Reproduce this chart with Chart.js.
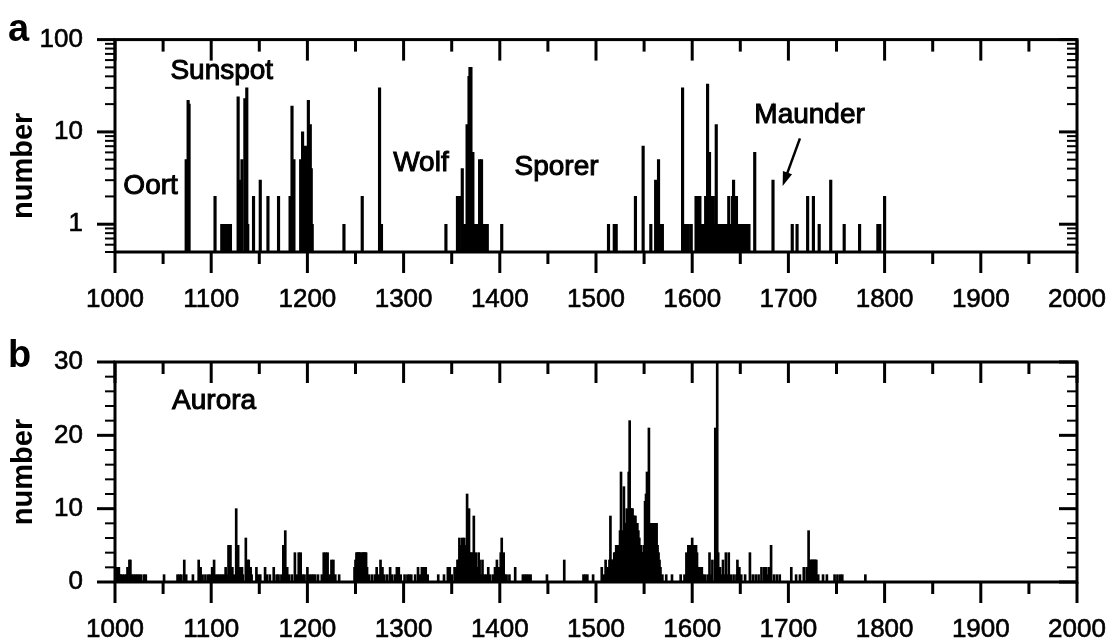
<!DOCTYPE html>
<html>
<head>
<meta charset="utf-8">
<script src="https://cdn.jsdelivr.net/npm/chart.js@4.4.0/dist/chart.umd.min.js"></script>
<style>
  html, body { margin: 0; padding: 0; background: #fff; }
  #wrap { position: relative; width: 1114px; height: 644px; }
  .panel { position: absolute; left: 0; width: 1114px; height: 322px; }
  #pa { top: 0; }
  #pb { top: 322px; }
</style>
</head>
<body>
<div id="wrap">
  <div class="panel" id="pa"><canvas id="chartA"></canvas></div>
  <div class="panel" id="pb"><canvas id="chartB"></canvas></div>
</div>
<script>
// panel a: sunspot sightings per year (log axis)
const sunspotYears = [
  1074, 1076, 1077, 1104, 1111, 1113, 1116, 1117, 1118, 1119, 1120,
  1128, 1130, 1132, 1135, 1137, 1138, 1144, 1151, 1159, 1170,
  1182, 1184, 1186, 1193, 1195, 1198, 1201, 1203, 1204, 1205,
  1238, 1257, 1275, 1277,
  1344, 1356, 1358, 1361, 1362, 1363, 1364, 1365, 1366, 1367, 1368, 1369, 1370,
  1371, 1372, 1373, 1374, 1375, 1376, 1377, 1378, 1379, 1381, 1383, 1385, 1387, 1402,
  1513, 1519, 1521, 1541, 1549, 1557, 1562, 1564, 1565, 1566, 1567, 1568, 1569,
  1590, 1592, 1594, 1596, 1599, 1604, 1606, 1608, 1610, 1612, 1614, 1615, 1616,
  1617, 1618, 1619, 1620, 1621, 1622, 1623, 1624, 1625, 1626, 1627, 1628, 1629,
  1630, 1631, 1632, 1633, 1634, 1636, 1638, 1640, 1642, 1643, 1644, 1646, 1647,
  1649, 1651, 1653, 1655, 1657, 1659, 1665, 1684, 1704, 1709, 1720, 1726, 1732,
  1744, 1758, 1774, 1793, 1795, 1800
];
const sunspotCounts = [
  5, 22, 20, 2, 1, 1, 1, 1, 1, 1, 1,
  24, 3, 5, 23, 30, 1, 2, 3, 2, 2,
  2, 19, 5, 5, 10, 7, 22, 12, 4, 1,
  1, 2, 30, 1,
  1, 2, 2, 4, 1, 1, 1, 1, 12, 6, 40, 50, 50,
  1, 6, 1, 1, 1, 1, 1, 1, 5, 5, 1, 1, 1, 1,
  1, 1, 1, 2, 7, 1, 3, 1, 5, 1, 1, 1, 1,
  30, 1, 1, 1, 1, 2, 2, 2, 1, 1, 2, 2, 33,
  2, 6, 2, 2, 2, 2, 1, 1, 12, 1, 1, 1, 1,
  1, 1, 1, 1, 1, 1, 2, 1, 2, 3, 1, 2, 1,
  1, 1, 1, 1, 1, 1, 6, 3, 1, 1, 2, 2, 1,
  3, 1, 1, 1, 1, 2
];

// panel b: aurora sightings per year
const auroraYears = [
  1001, 1002, 1003, 1004, 1005, 1006, 1008, 1010, 1012, 1013, 1015, 1016, 1017,
  1019, 1021, 1023, 1025, 1027, 1030, 1032, 1051, 1065, 1067, 1069, 1072, 1074,
  1081, 1087, 1089, 1091, 1094, 1097, 1099, 1101, 1103, 1105, 1107, 1109, 1111,
  1113, 1115, 1116, 1118, 1120, 1122, 1124, 1126, 1127, 1128, 1130, 1132, 1133,
  1136, 1138, 1139, 1141, 1142, 1147, 1149, 1151, 1156, 1158, 1161, 1165, 1168,
  1170, 1173, 1175, 1177, 1179, 1181, 1184, 1187, 1189, 1191, 1193, 1195, 1197,
  1200, 1202, 1204, 1206, 1208, 1211, 1215, 1217, 1219, 1220, 1221, 1223, 1225,
  1227, 1229, 1233, 1249, 1250, 1251, 1252, 1253, 1254, 1255, 1256, 1257, 1258,
  1259, 1260, 1261, 1262, 1264, 1267, 1270, 1272, 1274, 1276, 1278, 1280, 1283,
  1286, 1288, 1291, 1293, 1295, 1297, 1301, 1304, 1306, 1308, 1312, 1315, 1317,
  1319, 1321, 1323, 1325, 1336, 1342, 1346, 1348, 1350, 1353, 1355, 1356, 1357,
  1358, 1359, 1360, 1361, 1362, 1363, 1364, 1365, 1366, 1367, 1368, 1369, 1370,
  1371, 1372, 1373, 1374, 1375, 1376, 1377, 1378, 1379, 1380, 1382, 1384, 1386,
  1388, 1390, 1393, 1395, 1397, 1399, 1401, 1402, 1403, 1404, 1405, 1407, 1410,
  1416, 1424, 1426, 1428, 1430, 1432, 1449, 1467, 1487, 1489, 1491, 1497, 1506,
  1508, 1510, 1511, 1512, 1513, 1514, 1515, 1516, 1517, 1518, 1519, 1520, 1521,
  1522, 1523, 1524, 1525, 1526, 1527, 1528, 1529, 1530, 1531, 1532, 1533, 1534,
  1535, 1536, 1537, 1538, 1539, 1540, 1541, 1542, 1543, 1544, 1545, 1546, 1547,
  1548, 1549, 1550, 1551, 1552, 1553, 1554, 1555, 1556, 1557, 1558, 1559, 1560,
  1561, 1562, 1563, 1564, 1565, 1566, 1567, 1569, 1573, 1579, 1588, 1592, 1594,
  1595, 1596, 1597, 1598, 1599, 1600, 1601, 1602, 1603, 1604, 1605, 1606, 1607,
  1608, 1609, 1610, 1611, 1613, 1616, 1618, 1620, 1621, 1624, 1626, 1627, 1629,
  1631, 1632, 1634, 1635, 1637, 1638, 1640, 1643, 1646, 1647, 1649, 1651, 1655,
  1660, 1663, 1666, 1669, 1672, 1675, 1677, 1678, 1680, 1682, 1685, 1688, 1691,
  1703, 1708, 1712, 1716, 1719, 1721, 1723, 1724, 1725, 1726, 1727, 1728, 1729,
  1731, 1736, 1740, 1748, 1751, 1754, 1756, 1780
];
const auroraCounts = [
  2, 1, 2, 2, 1, 1, 1, 1, 1, 2, 3, 3, 1,
  1, 1, 1, 1, 1, 1, 1, 1, 1, 1, 1, 3, 1,
  1, 3, 2, 1, 1, 1, 1, 2, 3, 1, 1, 1, 1,
  1, 2, 1, 5, 5, 2, 1, 10, 3, 5, 2, 2, 1,
  6, 3, 3, 2, 1, 2, 1, 1, 2, 1, 1, 2, 1,
  1, 1, 5, 7, 2, 1, 1, 4, 1, 4, 4, 1, 1,
  2, 1, 1, 1, 1, 1, 1, 4, 4, 2, 4, 1, 3,
  3, 1, 1, 2, 3, 4, 4, 4, 4, 4, 3, 4, 4,
  4, 4, 4, 2, 1, 1, 1, 2, 1, 3, 2, 1, 1,
  2, 1, 1, 2, 2, 1, 1, 1, 1, 1, 1, 2, 1,
  2, 2, 2, 1, 1, 1, 2, 2, 1, 2, 2, 3, 3,
  6, 4, 5, 6, 5, 6, 4, 5, 12, 4, 10, 4, 4,
  3, 4, 9, 2, 4, 2, 2, 4, 3, 1, 3, 1, 1,
  2, 1, 1, 2, 3, 2, 4, 6, 2, 4, 1, 1, 1,
  2, 1, 1, 1, 1, 1, 1, 3, 1, 1, 1, 1, 2,
  1, 3, 1, 2, 2, 3, 9, 3, 3, 3, 4, 4, 5,
  5, 5, 5, 7, 15, 6, 7, 13, 7, 8, 10, 9, 15,
  22, 10, 10, 10, 9, 9, 9, 8, 8, 7, 6, 5, 5,
  4, 4, 5, 11, 12, 15, 9, 21, 8, 8, 8, 7, 8,
  8, 7, 8, 5, 4, 3, 2, 1, 1, 1, 1, 1, 4,
  3, 5, 4, 5, 5, 6, 5, 5, 4, 5, 4, 2, 2,
  2, 1, 2, 1, 1, 1, 4, 1, 3, 21, 30, 4, 2,
  1, 3, 1, 4, 1, 4, 1, 1, 1, 3, 2, 1, 1,
  4, 1, 1, 1, 2, 2, 2, 1, 2, 5, 1, 1, 1,
  2, 1, 1, 2, 2, 7, 3, 3, 3, 3, 3, 3, 3,
  1, 1, 1, 1, 1, 1, 1, 1
];

// axis ticks
const xMajorTicks = [1000, 1100, 1200, 1300, 1400, 1500, 1600, 1700, 1800, 1900, 2000];
const logMajorTicks = [1, 10, 100];
const logMinorTicks = [0.5, 0.6, 0.7, 0.8, 0.9, 2, 3, 4, 5, 6, 7, 8, 9, 20, 30, 40, 50, 60, 70, 80, 90];
const linMajorTicks = [0, 10, 20, 30];
const linMinorTicks = [2, 4, 6, 8, 12, 14, 16, 18, 22, 24, 26, 28];

// text labels placed in data units
const sunspotNotes = ["Oort", "Sunspot", "Wolf", "Sporer", "Maunder"];
const sunspotNoteYears = [1037, 1111, 1318, 1459, 1722];
const sunspotNoteValues = [2.6, 45, 4.6, 4.1, 15.3];
const auroraNotes = ["Aurora"];
const auroraNoteYears = [1103];
const auroraNoteValues = [24.7];
const maunderArrow = { from: [1712, 8.5], to: [1694, 2.6] };

const FONT = '"Liberation Sans", Arial, Helvetica, sans-serif';
Chart.defaults.font.family = FONT;
Chart.defaults.color = "#000";
Chart.defaults.animation = false;

function framePlugin(cfg) {
  return {
    id: "frame",
    afterDatasetsDraw(chart) {
      const { ctx, chartArea: a } = chart;
      const x = chart.scales.x, y = chart.scales.y;
      const seg = (x1, y1, x2, y2) => { ctx.beginPath(); ctx.moveTo(x1, y1); ctx.lineTo(x2, y2); ctx.stroke(); };
      ctx.save();
      ctx.strokeStyle = "#000";
      ctx.fillStyle = "#000";

      // x ticks: outward at bottom, inward at top
      ctx.lineWidth = 3;
      for (let v = 1000; v <= 2000; v += 50) {
        const px = x.getPixelForValue(v);
        const len = xMajorTicks.includes(v) ? 21 : 12;
        seg(px, a.bottom, px, a.bottom + len);
        seg(px, a.top, px, a.top + len);
      }
      // y ticks: outward at left, inward at right
      cfg.yMajor.forEach(v => {
        const py = y.getPixelForValue(v);
        seg(a.left - 18, py, a.left, py);
        seg(a.right - 18, py, a.right, py);
      });
      ctx.lineWidth = 2;
      cfg.yMinor.forEach(v => {
        const py = y.getPixelForValue(v);
        seg(a.left - 10, py, a.left, py);
        seg(a.right - 10, py, a.right, py);
      });

      ctx.lineWidth = 3;
      ctx.strokeRect(a.left, a.top, a.right - a.left, a.bottom - a.top);

      // notes
      ctx.font = "28px " + FONT;
      ctx.lineWidth = 1;
      ctx.textAlign = "center";
      ctx.textBaseline = "middle";
      cfg.notes.forEach((t, i) => {
        const tx = x.getPixelForValue(cfg.noteX[i]), ty = y.getPixelForValue(cfg.noteY[i]);
        ctx.fillText(t, tx, ty);
        ctx.strokeText(t, tx, ty);
      });

      if (cfg.arrow) {
        const x1 = x.getPixelForValue(cfg.arrow.from[0]), y1 = y.getPixelForValue(cfg.arrow.from[1]);
        const x2 = x.getPixelForValue(cfg.arrow.to[0]), y2 = y.getPixelForValue(cfg.arrow.to[1]);
        const ang = Math.atan2(y2 - y1, x2 - x1);
        ctx.lineWidth = 2.5;
        seg(x1, y1, x2 - 8 * Math.cos(ang), y2 - 8 * Math.sin(ang));
        ctx.beginPath();
        ctx.moveTo(x2, y2);
        ctx.lineTo(x2 - 15 * Math.cos(ang - 0.33), y2 - 15 * Math.sin(ang - 0.33));
        ctx.lineTo(x2 - 15 * Math.cos(ang + 0.33), y2 - 15 * Math.sin(ang + 0.33));
        ctx.closePath();
        ctx.fill();
      }

      // y title
      ctx.save();
      ctx.translate(24, (a.top + a.bottom) / 2 + cfg.titleShift);
      ctx.rotate(-Math.PI / 2);
      ctx.font = "bold 29px " + FONT;
      ctx.fillText("number", 0, 0);
      ctx.restore();

      // panel letter
      ctx.font = "bold 38px " + FONT;
      ctx.textAlign = "left";
      ctx.textBaseline = "alphabetic";
      ctx.fillText(cfg.letter, 8, a.top + cfg.letterDrop);
      ctx.restore();
    }
  };
}

function makeChart(id, years, counts, yScale, cfg) {
  return new Chart(document.getElementById(id), {
    type: "bar",
    data: {
      datasets: [{
        data: years.map((yr, i) => ({ x: yr, y: counts[i] })),
        backgroundColor: "#000",
        borderWidth: 0,
        barThickness: cfg.barWidth
      }]
    },
    options: {
      responsive: true,
      maintainAspectRatio: false,
      layout: { padding: { top: cfg.top, right: 37, left: 0, bottom: 0 } },
      plugins: { legend: { display: false }, tooltip: { enabled: false } },
      scales: {
        x: {
          type: "linear",
          min: 1000,
          max: 2000,
          offset: false,
          grid: { display: true, drawOnChartArea: false, drawTicks: true, tickLength: 30, tickColor: "rgba(0,0,0,0)" },
          border: { display: false },
          afterBuildTicks: s => { s.ticks = xMajorTicks.map(v => ({ value: v })); },
          afterFit: s => { s.height = cfg.xHeight; },
          ticks: {
            autoSkip: false,
            maxRotation: 0,
            padding: 2,
            font: { size: 26 },
            textStrokeColor: "#000",
            textStrokeWidth: 0.6,
            callback: v => String(v)
          }
        },
        y: Object.assign({
          grid: { display: false },
          border: { display: false },
          afterFit: s => { s.width = 115; },
          ticks: {
            padding: 24,
            font: { size: 26 },
            textStrokeColor: "#000",
            textStrokeWidth: 0.6,
            callback: v => String(v)
          }
        }, yScale)
      }
    },
    plugins: [framePlugin(cfg)]
  });
}

makeChart("chartA", sunspotYears, sunspotCounts, {
  type: "logarithmic",
  min: 0.5,
  max: 100,
  afterBuildTicks: s => { s.ticks = logMajorTicks.map(v => ({ value: v })); }
}, {
  top: 32,
  xHeight: 70,
  barWidth: 2.5,
  yMajor: logMajorTicks,
  yMinor: logMinorTicks,
  notes: sunspotNotes,
  noteX: sunspotNoteYears,
  noteY: sunspotNoteValues,
  arrow: maunderArrow,
  titleShift: 20,
  letter: "a",
  letterDrop: 1
});

makeChart("chartB", auroraYears, auroraCounts, {
  type: "linear",
  min: 0,
  max: 30,
  afterBuildTicks: s => { s.ticks = linMajorTicks.map(v => ({ value: v })); }
}, {
  top: 40,
  xHeight: 62,
  barWidth: 2,
  yMajor: linMajorTicks,
  yMinor: linMinorTicks,
  notes: auroraNotes,
  noteX: auroraNoteYears,
  noteY: auroraNoteValues,
  arrow: null,
  titleShift: 0,
  letter: "b",
  letterDrop: 5
});
</script>
</body>
</html>
